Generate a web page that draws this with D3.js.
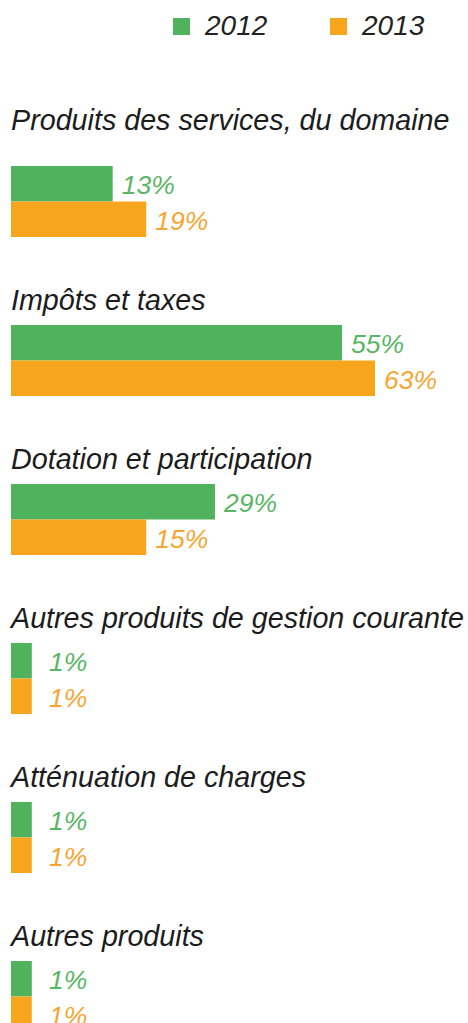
<!DOCTYPE html>
<html>
<head>
<meta charset="utf-8">
<script src="https://cdn.jsdelivr.net/npm/d3@7"></script>
<style>
  body { margin: 0; background: #fff; }
  text { font-family: "Liberation Sans", Arial, sans-serif; font-style: italic; }
</style>
</head>
<body>
<script>
  const categories = [
    "Produits des services, du domaine",
    "Impôts et taxes",
    "Dotation et participation",
    "Autres produits de gestion courante",
    "Atténuation de charges",
    "Autres produits"
  ];
  const years = ["2012", "2013"];
  // printed labels
  const label2012 = [13, 55, 29, 1, 1, 1];
  const label2013 = [19, 63, 15, 1, 1, 1];
  // bar lengths as drawn in the picture (same % units, they don't follow the labels)
  const bar2012 = [17.6, 57.3, 35.3, 3.6, 3.6, 3.6];
  const bar2013 = [23.4, 63, 23.4, 3.6, 3.6, 3.6];

  const WIDTH = 468;
  const HEIGHT = 1023;
  const LEFT = 11;
  const COLORS = { "2012": "#50b25c", "2013": "#f8a51e" };
  const TEXT_COLORS = { "2012": "#5ab565", "2013": "#f6a630" };

  const dataset = categories.map((c, i) => ({
    name: c,
    values: [
      { year: "2012", bar: bar2012[i], label: label2012[i] },
      { year: "2013", bar: bar2013[i], label: label2013[i] }
    ]
  }));

  const svg = d3.select("body")
    .append("svg")
    .attr("width", WIDTH)
    .attr("height", HEIGHT);

  const xScale = d3.scaleLinear()
    .domain([0, 63])
    .range([LEFT, LEFT + 364]);

  const groupScale = d3.scaleBand()
    .domain(categories)
    .range([166, 166 + 6 * 159]);

  const yearScale = d3.scaleBand()
    .domain(years)
    .range([0, 71]);

  // legend
  const legend = svg.append("g");
  const legendX = d3.scalePoint().domain(years).range([173, 330]);
  legend.selectAll("rect")
    .data(years)
    .enter()
    .append("rect")
    .attr("x", d => legendX(d))
    .attr("y", 18)
    .attr("width", 17)
    .attr("height", 17)
    .attr("fill", d => COLORS[d]);
  legend.selectAll("text")
    .data(years)
    .enter()
    .append("text")
    .attr("x", d => legendX(d) + 32)
    .attr("y", 35)
    .attr("font-size", 28)
    .attr("fill", "#222")
    .text(d => d);

  const groups = svg.selectAll(".group")
    .data(dataset)
    .enter()
    .append("g")
    .attr("class", "group")
    .attr("transform", d => "translate(0, " + groupScale(d.name) + ")");

  groups.append("text")
    .attr("x", LEFT)
    .attr("y", (d, i) => i === 0 ? -36 : -15)
    .attr("font-size", 28.7)
    .attr("fill", "#1c1c1c")
    .text(d => d.name);

  groups.selectAll("rect")
    .data(d => d.values)
    .enter()
    .append("rect")
    .attr("x", xScale(0))
    .attr("y", d => yearScale(d.year))
    .attr("width", d => xScale(d.bar) - xScale(0))
    .attr("height", yearScale.bandwidth())
    .attr("fill", d => COLORS[d.year]);

  groups.selectAll(".value")
    .data(d => d.values)
    .enter()
    .append("text")
    .attr("class", "value")
    .attr("x", d => Math.max(xScale(d.bar) + 9, 49))
    .attr("y", d => yearScale(d.year) + 28)
    .attr("font-size", 26.5)
    .attr("fill", d => TEXT_COLORS[d.year])
    .text(d => d.label + "%");
</script>
</body>
</html>
